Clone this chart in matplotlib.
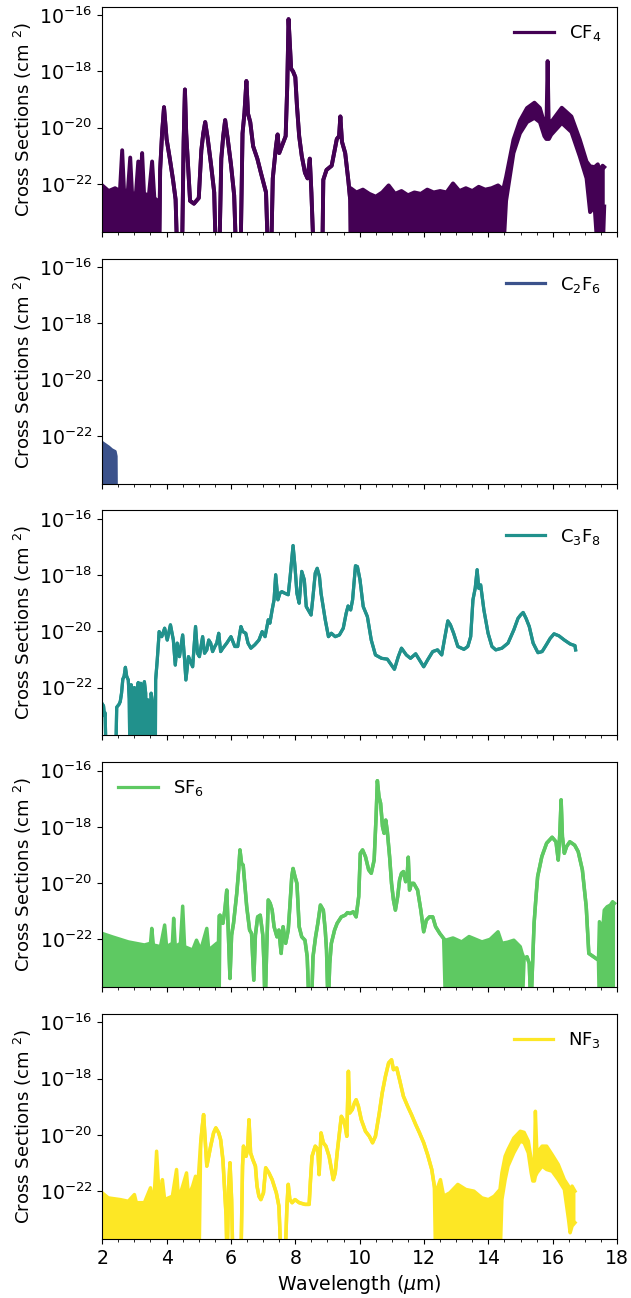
import numpy as np
import matplotlib
matplotlib.use("Agg")
import matplotlib.pyplot as plt
from matplotlib.ticker import MultipleLocator, NullLocator, FixedLocator

plt.rcParams['font.family'] = ['DejaVu Sans']
plt.rcParams['font.size'] = 13.6

F = -24.5      # log10 value below the visible floor (noise drops out of view)
N = np.nan     # "lower edge equals upper edge" (plain line)

names = ["CF$_4$", "C$_2$F$_6$", "C$_3$F$_8$", "SF$_6$", "NF$_3$"]
colors = ["#440154", "#3b528b", "#21918c", "#5ec962", "#fde725"]
legend_locs = ["upper right", "upper right", "upper right", "upper left", "upper right"]
line_widths = [2.8, 2.3, 2.3, 2.5, 2.5]

# ---------------- CF4 (log10 cross section, upper / lower envelope) ----------------
cf4_wl = [2.00, 2.20, 2.40, 2.55, 2.62, 2.68, 2.80, 2.87, 2.93, 3.05,
          3.12, 3.18, 3.24, 3.30, 3.45, 3.55, 3.62, 3.72, 3.77, 3.80,
          3.86, 3.92, 4.00, 4.10, 4.20, 4.28, 4.33, 4.48, 4.53, 4.57,
          4.61, 4.67, 4.73, 4.85, 5.00, 5.08, 5.14, 5.20, 5.28, 5.38,
          5.48, 5.53, 5.64, 5.70, 5.76, 5.82, 5.90, 6.00, 6.10, 6.16,
          6.30, 6.36, 6.42, 6.48, 6.53, 6.60, 6.69, 6.82, 6.93, 7.09,
          7.15, 7.25, 7.30, 7.36, 7.40, 7.45, 7.50, 7.60, 7.70, 7.75,
          7.79, 7.83, 7.87, 7.93, 8.00, 8.05, 8.12, 8.20, 8.30, 8.38,
          8.45, 8.50, 8.57, 8.84, 8.87, 8.97, 9.13, 9.29, 9.36, 9.40,
          9.45, 9.55, 9.65, 9.70, 9.72, 9.90, 10.10, 10.30, 10.50, 10.70,
          10.90, 11.10, 11.30, 11.50, 11.70, 11.90, 12.10, 12.30, 12.50, 12.70,
          12.90, 13.10, 13.30, 13.50, 13.70, 13.90, 14.10, 14.30, 14.46, 14.55,
          14.78, 14.98, 15.20, 15.43, 15.60, 15.74, 15.80, 15.84, 15.88, 15.95,
          16.28, 16.58, 16.84, 17.05, 17.16, 17.30, 17.40, 17.45, 17.55, 17.60]
cf4_hi = [-22.05, -22.25, -22.15, -22.25, -20.80, -22.30, -22.20, -21.06, -22.40, -22.30,
          -21.20, -22.20, -20.90, -22.35, -22.40, -21.20, -22.50, -22.60, F, -21.50,
          -20.20, -19.27, -20.40, -21.10, -21.85, -22.55, F, F, -20.50, -18.64,
          -20.20, -21.37, -22.60, -22.70, -22.50, -20.80, -20.20, -19.80, -20.40, -21.30,
          -22.30, F, F, -21.10, -20.30, -19.73, -20.40, -21.30, -22.40, F,
          F, -20.20, -19.47, -18.34, -19.50, -19.80, -20.66, -21.10, -21.60, -22.30,
          F, F, -21.80, -21.10, -20.66, -20.24, -20.90, -20.60, -20.30, -18.50,
          -16.14, -17.00, -17.90, -18.00, -18.20, -19.20, -20.30, -21.00, -21.60, -21.80,
          -21.10, -22.30, F, F, -21.85, -21.50, -21.35, -20.40, -20.30, -19.60,
          -20.50, -20.90, -21.90, -22.50, -22.15, -22.30, -22.20, -22.35, -22.45, -22.30,
          -22.05, -22.35, -22.25, -22.40, -22.30, -22.35, -22.20, -22.30, -22.25, -22.30,
          -21.98, -22.25, -22.15, -22.25, -22.10, -22.20, -22.15, -22.05, -22.20, -21.75,
          -20.42, -19.75, -19.30, -19.11, -19.30, -19.85, -20.20, -17.63, -20.20, -19.80,
          -19.29, -19.60, -20.42, -21.20, -21.37, -21.40, -21.30, -21.50, -21.35, -21.40]
cf4_lo = ([F] * 19 + [N] * 75 + [F] * 25 +
          [-22.60, -20.90, -20.20, -19.80, -19.65, -19.80, -20.30, -20.40, -20.40, -20.40,
           -20.25, -19.83, -20.15, -21.02, -21.80, -23.00, -22.80, F, -23.30, F, -22.80])

# ---------------- C2F6 ----------------
c2f6_wl = [2.00, 2.10, 2.20, 2.30, 2.40, 2.43, 2.44]
c2f6_hi = [-22.24, -22.32, -22.40, -22.50, -22.56, -22.73, F]
c2f6_lo = [F] * 7

# ---------------- C3F8 ----------------
c3f8_wl = [2.00, 2.04, 2.07, 2.09, 2.12, 2.42, 2.45, 2.52, 2.56, 2.60,
           2.64, 2.68, 2.72, 2.76, 2.81, 2.84, 2.86, 2.90, 2.94, 2.97,
           3.00, 3.04, 3.08, 3.12, 3.16, 3.20, 3.24, 3.28, 3.31, 3.35,
           3.38, 3.42, 3.46, 3.52, 3.56, 3.60, 3.65, 3.66, 3.71, 3.77,
           3.85, 3.94, 4.02, 4.12, 4.21,
           4.27, 4.33, 4.40, 4.50, 4.56, 4.60, 4.68, 4.81, 4.90, 4.96,
           5.02, 5.12, 5.18, 5.25, 5.31, 5.37, 5.43, 5.50, 5.56, 5.62,
           5.68, 5.75, 5.87, 6.00, 6.12, 6.21, 6.31, 6.37, 6.46, 6.53,
           6.62, 6.74, 6.87, 6.97, 7.06, 7.16, 7.21, 7.28, 7.34, 7.39,
           7.46, 7.52, 7.58, 7.68, 7.78, 7.84, 7.93, 7.99, 8.05, 8.12,
           8.20, 8.28, 8.34, 8.43, 8.49, 8.55, 8.62, 8.68, 8.75, 8.80,
           8.93, 9.03, 9.12, 9.24, 9.37, 9.49, 9.58, 9.64, 9.72, 9.78,
           9.87, 9.93, 10.01, 10.11, 10.24, 10.36, 10.49, 10.68, 10.86, 10.99,
           11.08, 11.20, 11.30, 11.45, 11.58, 11.74, 11.86, 11.99, 12.11, 12.27,
           12.42, 12.55, 12.65, 12.74, 12.82, 12.92, 13.05, 13.24, 13.36, 13.45,
           13.52, 13.59, 13.65, 13.70, 13.76, 13.86, 13.99, 14.11, 14.23, 14.42,
           14.61, 14.79, 14.92, 15.00, 15.08, 15.17, 15.27, 15.39, 15.54, 15.67,
           15.80, 15.92, 16.04, 16.19, 16.36, 16.54, 16.69, 16.71]
c3f8_hi = [-22.58, -22.65, -23.00, -22.90, F, F, -22.70, -22.60, -22.50, -22.20,
           -21.70, -21.60, -21.28, -21.60, -21.73, -22.40, F, -21.90, -22.44, F,
           -22.00, F, -22.30, -21.82, F, -21.85, -22.68, F, -21.79, -22.20,
           F, -22.44, F, -22.20, -22.50, F, F, -21.73, -21.02, -20.01,
           -20.19, -19.89, -20.31, -19.77, -20.31,
           -21.20, -20.42, -20.90, -20.13, -21.02, -21.73, -20.90, -21.26, -19.83, -20.78,
           -20.90, -20.19, -20.78, -20.66, -20.31, -20.42, -20.72, -20.54, -20.42, -20.07,
           -20.72, -20.60, -20.42, -20.19, -20.54, -20.54, -19.83, -20.01, -20.07, -20.42,
           -20.60, -20.48, -20.31, -20.01, -20.19, -19.59, -19.71, -19.24, -18.88, -17.99,
           -18.88, -18.65, -18.59, -18.65, -18.70, -18.05, -16.95, -17.70, -18.65, -19.00,
           -17.87, -18.17, -19.12, -19.30, -19.42, -18.76, -17.93, -17.76, -18.05, -18.65,
           -19.59, -20.19, -20.07, -20.19, -20.13, -19.89, -19.36, -19.10, -19.24, -18.88,
           -17.67, -17.70, -18.17, -19.12, -19.48, -20.31, -20.84, -20.96, -20.99, -21.20,
           -21.35, -20.90, -20.60, -20.84, -20.96, -20.80, -21.02, -21.26, -21.02, -20.72,
           -20.66, -20.84, -20.19, -19.63, -19.77, -20.07, -20.54, -20.64, -20.54, -20.19,
           -18.88, -18.47, -17.81, -18.47, -18.35, -19.24, -20.07, -20.54, -20.66, -20.60,
           -20.42, -19.95, -19.54, -19.42, -19.33, -19.54, -19.83, -20.42, -20.76, -20.72,
           -20.48, -20.25, -20.09, -20.16, -20.31, -20.45, -20.51, -20.66]
c3f8_lo = None

# ---------------- SF6 ----------------
sf6_wl = [2.00, 2.31, 2.81, 3.31, 3.50, 3.54, 3.59, 3.81, 3.94, 4.00,
          4.18, 4.22, 4.27, 4.43, 4.50, 4.56, 4.81, 4.93, 5.06, 5.25,
          5.31, 5.56, 5.61, 5.63, 5.66, 5.75, 5.81, 5.87, 5.92, 5.97,
          6.02, 6.08, 6.18, 6.24, 6.28, 6.33, 6.38, 6.49, 6.58, 6.64,
          6.71, 6.76, 6.83, 6.91, 6.99, 7.03, 7.06, 7.11, 7.16, 7.22,
          7.28, 7.34, 7.43, 7.49, 7.56, 7.62, 7.70, 7.78, 7.83, 7.89,
          7.93, 7.99, 8.05, 8.12, 8.20, 8.30, 8.37, 8.43, 8.50, 8.55,
          8.63, 8.70, 8.78, 8.87, 8.93, 8.97, 9.02, 9.07, 9.12, 9.22,
          9.30, 9.43, 9.55, 9.62, 9.70, 9.80, 9.89, 9.97, 10.02, 10.09,
          10.18, 10.28, 10.36, 10.45, 10.51, 10.55, 10.60, 10.65, 10.71, 10.76,
          10.81, 10.86, 10.93, 10.99, 11.05, 11.11, 11.18, 11.24, 11.30, 11.36,
          11.43, 11.48, 11.51, 11.55, 11.61, 11.68, 11.80, 11.90, 11.99, 12.07,
          12.17, 12.27, 12.36, 12.49, 12.61, 12.67, 12.90, 13.17, 13.40, 13.55,
          13.80, 14.05, 14.30, 14.42, 14.60, 14.79, 14.99, 15.05, 15.11, 15.20,
          15.27, 15.32, 15.37, 15.42, 15.48, 15.53, 15.66, 15.81, 15.98, 16.10,
          16.17, 16.22, 16.26, 16.30, 16.36, 16.43, 16.53, 16.68, 16.79, 16.92,
          17.04, 17.12, 17.27, 17.42, 17.45, 17.55, 17.60, 17.69, 17.79, 17.86,
          17.92]
sf6_hi = [-21.79, -21.91, -22.09, -22.20, -22.14, -21.61, -22.20, -22.26, -21.49, -22.26,
          -22.14, -21.25, -22.26, -22.14, -20.82, -22.26, -22.38, -22.03, -22.38, -21.61,
          -22.38, -22.14, -22.20, -21.17, -21.14, -21.43, -20.96, -20.25, -21.85, -23.39,
          -21.85, -21.43, -20.37, -19.53, -18.82, -19.30, -19.36, -20.84, -21.67, -21.79,
          -23.45, -21.85, -21.20, -21.14, -21.85, -22.98, F, -22.38, -20.60, -20.72,
          -20.96, -21.55, -21.91, -21.67, -22.50, -21.55, -22.14, -21.67, -20.84, -19.77,
          -19.48, -19.77, -20.01, -21.55, -21.91, -22.03, -22.62, F, F, -22.62,
          -21.91, -21.43, -20.78, -20.96, -21.67, -22.38, F, -22.86, -22.14, -21.67,
          -21.43, -21.20, -21.14, -21.05, -21.08, -21.02, -21.20, -20.48, -18.94, -18.82,
          -19.06, -19.53, -19.65, -19.18, -17.64, -16.36, -16.93, -17.16, -17.99, -18.23,
          -17.76, -18.17, -19.06, -20.01, -20.60, -20.96, -20.48, -19.89, -19.65, -19.59,
          -19.95, -19.65, -19.08, -20.25, -20.01, -20.01, -20.25, -20.96, -21.73, -21.32,
          -21.20, -21.20, -21.55, -21.79, -21.97, -22.03, -21.95, -22.09, -21.90, -21.97,
          -22.09, -22.00, -21.73, -22.14, -22.10, -22.03, -22.26, -22.50, -22.68, -22.62,
          -22.86, F, -23.00, -21.43, -20.48, -19.77, -19.06, -18.58, -18.37, -18.53,
          -19.18, -18.23, -17.04, -18.35, -18.94, -18.70, -18.53, -18.65, -18.88, -19.53,
          -20.84, -22.50, -22.62, -22.74, -21.37, -21.67, -20.96, -20.84, -20.78, -20.66,
          -20.72]
sf6_lo = [F] * 24 + [N] * 101 + [F] * 13 + [N] * 26 + [F] * 7

# ---------------- NF3 ----------------
nf3_wl = [2.00, 2.19, 2.56, 2.81, 3.00, 3.06, 3.31, 3.50, 3.56, 3.62,
          3.69, 3.75, 3.81, 3.87, 3.94, 4.06, 4.18, 4.31, 4.37, 4.50,
          4.62, 4.68, 4.81, 4.90, 4.96, 5.01, 5.06, 5.11, 5.15, 5.20,
          5.25, 5.31, 5.37, 5.46, 5.53, 5.62, 5.68, 5.75, 5.81, 5.85,
          5.88, 5.93, 5.97, 6.02, 6.06, 6.31, 6.36, 6.39, 6.47, 6.52,
          6.56, 6.61, 6.68, 6.76, 6.81, 6.87, 6.93, 7.01, 7.08, 7.18,
          7.28, 7.41, 7.49, 7.56, 7.68, 7.74, 7.78, 7.83, 7.90, 7.99,
          8.12, 8.30, 8.43, 8.47, 8.52, 8.62, 8.70, 8.74, 8.80, 8.87,
          8.95, 9.05, 9.18, 9.24, 9.30, 9.37, 9.43, 9.49, 9.55, 9.60,
          9.65, 9.69, 9.77, 9.84, 9.89, 9.96, 10.05, 10.18, 10.30, 10.40,
          10.49, 10.61, 10.70, 10.80, 10.90, 10.99, 11.05, 11.15, 11.24, 11.36,
          11.49, 11.61, 11.74, 11.86, 11.99, 12.11, 12.24, 12.32, 12.36, 12.51,
          12.61, 12.80, 13.05, 13.30, 13.55, 13.80, 14.00, 14.18, 14.36, 14.42,
          14.52, 14.61, 14.79, 14.99, 15.11, 15.24, 15.33, 15.38, 15.43, 15.46,
          15.51, 15.59, 15.67, 15.81, 15.98, 16.17, 16.36, 16.49, 16.54, 16.60,
          16.69]
nf3_hi = [-22.06, -22.24, -22.30, -22.36, -22.12, -22.41, -22.41, -21.88, -22.30, -22.06,
          -20.58, -21.82, -22.06, -21.59, -22.30, -22.24, -22.18, -21.23, -22.30, -21.82,
          -21.35, -22.18, -21.82, -21.47, -22.06, -21.11, -20.28, -19.69, -19.28, -20.17,
          -21.11, -20.76, -20.40, -19.93, -19.75, -19.93, -20.17, -20.88, -22.06, -22.89,
          F, -21.82, -20.99, -22.30, F, F, -21.11, -20.40, -20.76, -20.52,
          -19.46, -20.64, -20.88, -21.11, -21.82, -22.18, -22.30, -22.06, -21.17, -21.35,
          -21.59, -22.06, -22.53, F, F, -22.53, -21.76, -22.30, -22.41, -22.30,
          -22.41, -22.47, -22.47, -21.64, -20.76, -20.40, -20.52, -21.41, -19.93, -20.28,
          -20.40, -20.76, -21.59, -21.35, -20.64, -19.93, -19.34, -19.46, -19.69, -20.05,
          -17.74, -19.22, -19.10, -18.86, -18.75, -18.98, -19.46, -19.87, -20.05, -20.28,
          -20.05, -19.22, -18.51, -17.92, -17.44, -17.33, -17.68, -17.62, -18.04, -18.63,
          -18.98, -19.28, -19.63, -19.93, -20.28, -20.70, -21.23, -21.82, -22.06, -21.59,
          -22.18, -22.06, -21.76, -21.94, -22.00, -22.24, -22.30, -22.18, -21.94, -21.35,
          -20.76, -20.52, -20.11, -19.87, -19.91, -20.22, -20.88, -21.47, -20.88, -19.16,
          -20.76, -20.52, -20.40, -20.40, -20.70, -21.05, -21.59, -21.82, -22.06, -21.82,
          -22.00]
nf3_lo = ([F] * 26 + [N] * 92 + [F] * 11 +
          [-22.30, -21.59, -21.11, -20.64, -20.22, -20.28, -20.64, -21.35, -21.64, -21.64,
           -21.47, -21.35, -21.23, -21.11, -21.23, -21.29, -21.59, -21.94, -23.01, -23.48,
           -23.24, -23.12])

series = [(cf4_wl, cf4_hi, cf4_lo), (c2f6_wl, c2f6_hi, c2f6_lo),
          (c3f8_wl, c3f8_hi, c3f8_lo), (sf6_wl, sf6_hi, sf6_lo),
          (nf3_wl, nf3_hi, nf3_lo)]

fig, axes = plt.subplots(5, 1, figsize=(6.31, 12.98), dpi=100, sharex=True)
fig.subplots_adjust(left=0.162, right=0.978, top=0.9948, bottom=0.0455, hspace=0.119)

for ax, name, color, loc, lw, (wl, hi, lo) in zip(axes, names, colors, legend_locs,
                                                  line_widths, series):
    wl = np.asarray(wl, float)
    hi = np.asarray(hi, float)
    assert len(wl) == len(hi), name
    if lo is None:
        lo = hi.copy()
    else:
        lo = np.asarray(lo, float)
        assert len(lo) == len(wl), name
        lo = np.where(np.isnan(lo), hi, lo)
    ax.fill_between(wl, 10.0 ** lo, 10.0 ** hi, color=color, lw=0)
    ax.plot(wl, 10.0 ** hi, color=color, lw=lw, label=name)
    ax.plot(wl, 10.0 ** lo, color=color, lw=lw)
    ax.set_yscale('log')
    ax.set_ylim(2e-24, 2e-16)
    ax.set_xlim(2, 18)
    ax.yaxis.set_major_locator(FixedLocator([1e-22, 1e-20, 1e-18, 1e-16]))
    ax.yaxis.set_minor_locator(NullLocator())
    ax.xaxis.set_major_locator(MultipleLocator(2))
    ax.xaxis.set_minor_locator(MultipleLocator(0.5))
    ax.set_ylabel("Cross Sections (cm $^2$)", fontsize=13.1)
    leg = ax.legend(loc=loc, frameon=False, handlelength=2.2, fontsize=13)
    for h in leg.get_lines():
        h.set_linewidth(2.3)

axes[-1].set_xlabel("Wavelength ($\\mu$m)")
fig.savefig("out.png", dpi=100)
